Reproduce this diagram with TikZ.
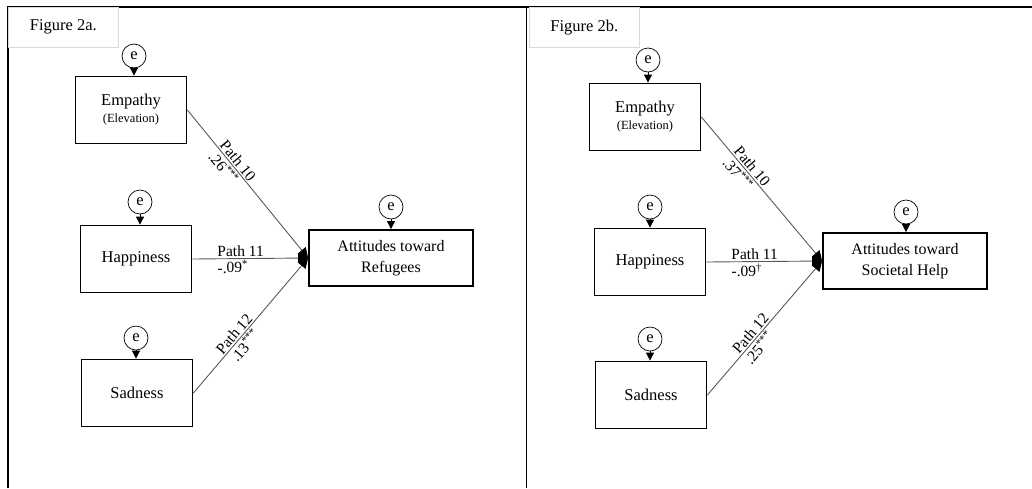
\documentclass[tikz,border=0pt]{standalone}
\usepackage{fontspec}
\setmainfont{Liberation Serif}
\usetikzlibrary{positioning, calc, arrows.meta}

\tikzset{
  var/.style={draw, line width=1.8pt, minimum width=111pt, minimum height=67pt, align=center,
              font=\fontsize{16.5}{19}\selectfont},
  outc/.style={var, minimum width=164pt, minimum height=56pt, font=\fontsize{16}{21}\selectfont},
  err/.style={draw, circle, line width=0.7pt, minimum size=24pt, inner sep=0pt,
              font=\fontsize{16.5}{18}\selectfont},
  errarr/.style={-{Triangle[length=8pt,width=8pt]}, line width=0.8pt},
  pathline/.style={draw=black!65, line width=0.9pt, -{Triangle[length=10pt,width=10pt,color=black]}},
  lab/.style={sloped, font=\fontsize{15.5}{17}\selectfont, inner sep=1.5pt},
  figlab/.style={draw=black!15, line width=0.6pt, minimum width=110pt, minimum height=40pt,
                 anchor=north west, font=\fontsize{16.5}{19}\selectfont}
}
\newcommand{\elev}{{\fontsize{12.5}{14}\selectfont (Elevation)}}

\begin{document}
\begin{tikzpicture}[x=1pt, y=-1pt]
  \useasboundingbox (0,0) rectangle (1032,488);

  % frame
  \draw[line width=1.6pt] (8,488) -- (8,7) -- (1032,7);
  \draw[line width=0.8pt] (526,7) -- (526,488);

  % Figure 2a
  \node[figlab] (figA) at (8,7) {Figure 2a.};
  \node[var] (empA) at (131,110) {Empathy\\[-2pt]\elev};
  \node[var] (hapA) at (136,259) {Happiness};
  \node[var] (sadA) at (137,393) {Sadness};
  \node[outc] (attA) at (391,258) {Attitudes toward\\Refugees};
  \node[err] (eEmpA) at (134,56) {e};
  \node[err] (eHapA) at (140,202) {e};
  \node[err] (eSadA) at (136,338) {e};
  \node[err] (eAttA) at (391,207) {e};

  \draw[errarr] (eEmpA) -- (eEmpA |- empA.north);
  \draw[errarr] (eHapA) -- (eHapA |- hapA.north);
  \draw[errarr] (eSadA) -- (eSadA |- sadA.north);
  \draw[errarr] (eAttA) -- (eAttA |- attA.north);

  \draw[pathline] (empA.east) -- node[lab, anchor=south west, pos=0.24] {Path 10}
                                 node[lab, anchor=north west, pos=0.25] {.26\textsuperscript{***}} (attA.west);
  \draw[pathline] (hapA.east) -- node[lab, anchor=south west, pos=0.2] {Path 11}
                                 node[lab, anchor=north west, pos=0.2] {-.09\textsuperscript{*}} (attA.west);
  \draw[pathline] (sadA.east) -- node[lab, anchor=south west, pos=0.26] {Path 12}
                                 node[lab, anchor=north west, pos=0.28] {.13\textsuperscript{***}} (attA.west);

  % Figure 2b
  \node[figlab] (figB) at (529,7) {Figure 2b.};
  \node[var] (empB) at (645,117) {Empathy\\[-2pt]\elev};
  \node[var] (hapB) at (650,262) {Happiness};
  \node[var] (sadB) at (651,395) {Sadness};
  \node[outc] (attB) at (905,261) {Attitudes toward\\Societal Help};
  \node[err] (eEmpB) at (648,60) {e};
  \node[err] (eHapB) at (650,207) {e};
  \node[err] (eSadB) at (650,339) {e};
  \node[err] (eAttB) at (906,212) {e};

  \draw[errarr] (eEmpB) -- (eEmpB |- empB.north);
  \draw[errarr] (eHapB) -- (eHapB |- hapB.north);
  \draw[errarr] (eSadB) -- (eSadB |- sadB.north);
  \draw[errarr] (eAttB) -- (eAttB |- attB.north);

  \draw[pathline] (empB.east) -- node[lab, anchor=south west, pos=0.24] {Path 10}
                                 node[lab, anchor=north west, pos=0.25] {.37\textsuperscript{***}} (attB.west);
  \draw[pathline] (hapB.east) -- node[lab, anchor=south west, pos=0.2] {Path 11}
                                 node[lab, anchor=north west, pos=0.2] {-.09\textsuperscript{\textdagger}} (attB.west);
  \draw[pathline] (sadB.east) -- node[lab, anchor=south west, pos=0.28] {Path 12}
                                 node[lab, anchor=north west, pos=0.28] {.25\textsuperscript{***}} (attB.west);
\end{tikzpicture}
\end{document}
